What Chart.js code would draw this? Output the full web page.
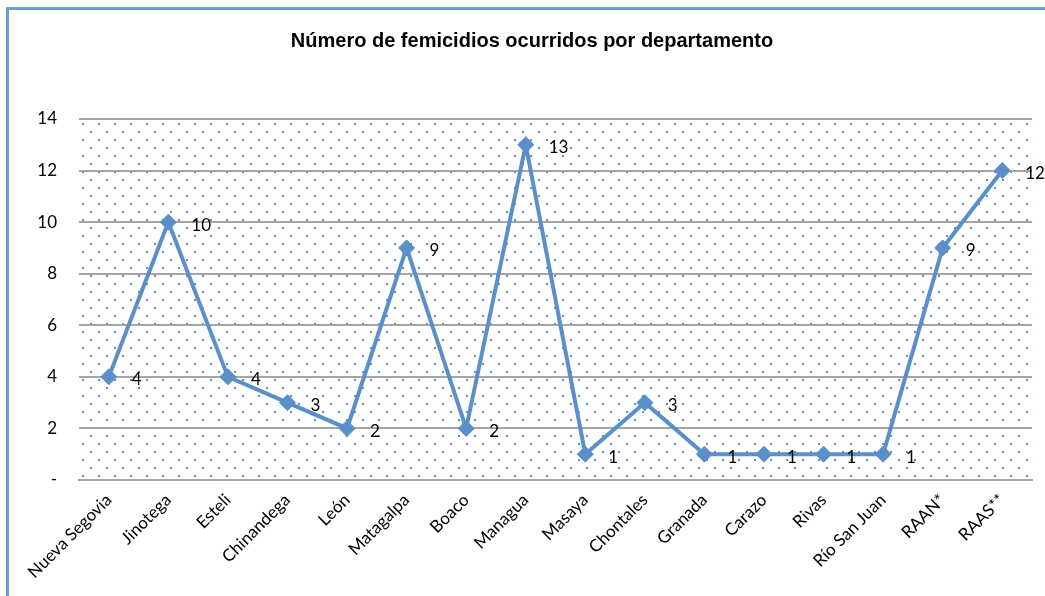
<!DOCTYPE html>
<html>
<head>
<meta charset="utf-8">
<script src="https://cdn.jsdelivr.net/npm/chart.js@4"></script>
<style>
  html, body { margin: 0; padding: 0; background: #fff; overflow: hidden; }
  #wrap { width: 1045px; height: 596px; position: relative; }
</style>
</head>
<body>
<div id="wrap"><canvas id="myChart" width="1045" height="596"></canvas></div>
<script>
const departamentos = ['Nueva Segovia', 'Jinotega', 'Esteli', 'Chinandega', 'León', 'Matagalpa', 'Boaco', 'Managua',
    'Masaya', 'Chontales', 'Granada', 'Carazo', 'Rivas', 'Río San Juan', 'RAAN*', 'RAAS**'];
const femicidios = [4, 10, 4, 3, 2, 9, 2, 13, 1, 3, 1, 1, 1, 1, 9, 12];
const yTicks = [0, 2, 4, 6, 8, 10, 12, 14];
const titulo = 'Número de femicidios ocurridos por departamento';

const fuente = "Lato, 'Open Sans', sans-serif";
const azul = '#5B8FC9';

// patron de puntos del area de trazado
function hacerPatron(ctx) {
    const p = document.createElement('canvas');
    p.width = 16;
    p.height = 16;
    const pc = p.getContext('2d');
    pc.fillStyle = '#5C8FC6';
    pc.fillRect(3, 4, 2, 2);
    pc.fillRect(11, 12, 2, 2);
    return ctx.createPattern(p, 'repeat');
}

const fondoPlugin = {
    id: 'fondo',
    beforeDraw(chart) {
        const ctx = chart.ctx;
        const a = chart.chartArea;
        ctx.save();
        ctx.fillStyle = '#ffffff';
        ctx.fillRect(0, 0, chart.width, chart.height);
        ctx.translate(a.left, a.top);
        ctx.fillStyle = hacerPatron(ctx);
        ctx.fillRect(0, 0, a.right - a.left, a.bottom - a.top);
        ctx.restore();
        // marco
        ctx.save();
        ctx.strokeStyle = '#6A9FD3';
        ctx.lineWidth = 3;
        ctx.strokeRect(7.5, 8.5, 1200, 800);
        ctx.restore();
    }
};

const etiquetasPlugin = {
    id: 'etiquetas',
    afterDatasetsDraw(chart) {
        const ctx = chart.ctx;
        const meta = chart.getDatasetMeta(0);
        ctx.save();
        ctx.font = '17px ' + fuente;
        ctx.fillStyle = '#000';
        ctx.textAlign = 'left';
        ctx.textBaseline = 'middle';
        meta.data.forEach(function (pt, i) {
            ctx.fillText(String(femicidios[i]), pt.x + 23, pt.y + 3);
        });
        ctx.restore();
    }
};

document.addEventListener('DOMContentLoaded', function () {
    var ctx = document.getElementById('myChart').getContext('2d');
    new Chart(ctx, {
        type: 'line',
        data: {
            labels: departamentos,
            datasets: [{
                label: 'Femicidios',
                data: femicidios,
                borderColor: azul,
                backgroundColor: azul,
                borderWidth: 4,
                pointStyle: 'rectRot',
                pointRadius: 8,
                pointBorderWidth: 1,
                pointBorderColor: azul,
                pointBackgroundColor: azul,
                tension: 0
            }]
        },
        options: {
            responsive: false,
            animation: false,
            devicePixelRatio: 1,
            layout: { padding: { left: 32, right: 13, top: 0, bottom: 0 } },
            plugins: {
                legend: { display: false },
                tooltip: { enabled: false },
                title: {
                    display: true,
                    text: titulo,
                    color: '#000',
                    font: { family: "'Liberation Sans', Arial, sans-serif", size: 20, weight: 'bold' },
                    padding: { top: 29, bottom: 66 }
                }
            },
            scales: {
                x: {
                    offset: true,
                    grid: { display: false, drawTicks: false },
                    border: { display: true, color: '#A6A6A6', width: 2 },
                    ticks: {
                        color: '#000',
                        font: { family: fuente, size: 17 },
                        maxRotation: 45,
                        minRotation: 45,
                        autoSkip: false,
                        padding: 10
                    },
                    afterFit(scale) { scale.height = 116; }
                },
                y: {
                    min: 0,
                    max: 14,
                    afterBuildTicks(scale) {
                        scale.ticks = yTicks.map(v => ({ value: v }));
                    },
                    grid: { color: '#A6A6A6', lineWidth: 2, drawTicks: false },
                    border: { display: false },
                    ticks: {
                        color: '#000',
                        font: { family: fuente, size: 17 },
                        padding: 22,
                        callback: function (v) { return v === 0 ? '-' : v; }
                    },
                    afterFit(scale) { scale.width = 47; }
                }
            }
        },
        plugins: [fondoPlugin, etiquetasPlugin]
    });
});
</script>
</body>
</html>
